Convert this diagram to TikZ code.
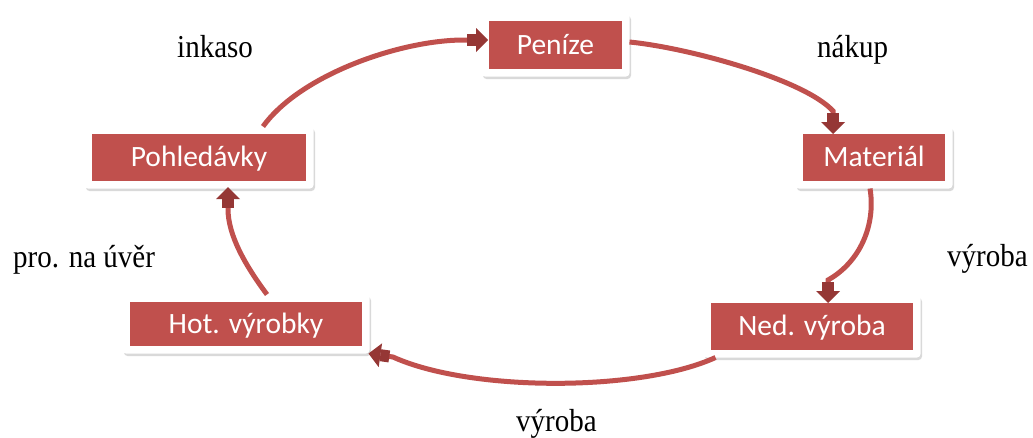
\documentclass[tikz,border=0pt]{standalone}
\usepackage{fontspec}
\setmainfont{Liberation Serif}
\newfontfamily\boxfont{Carlito}
\usetikzlibrary{arrows.meta,fit,backgrounds,shadows}
\definecolor{boxred}{HTML}{C0504D}
\definecolor{arrowred}{HTML}{953735}
\tikzset{
  rednode/.style={fill=boxred, text=white, inner sep=0pt, outer sep=0pt,
    text height=18pt, text depth=0pt,
    font=\boxfont\fontsize{29.5}{30}\selectfont},
  whitebox/.style={fill=white, inner sep=7.5pt, outer sep=0pt, rounded corners=3.5pt,
    drop shadow={opacity=0.3, shadow xshift=1.5pt, shadow yshift=-2.5pt}},
  flow/.style={draw=boxred, line width=5pt,
    -{Rectangle[length=9pt,width=12pt,sep=0pt,line width=0pt,color=arrowred]Triangle[length=12pt,width=24pt,sep=0pt,line width=0pt,color=arrowred]}},
  lbl/.style={anchor=base west, inner sep=0pt, font=\fontsize{29}{30}\selectfont}
}
\newcommand{\tall}[1]{\scalebox{1}[1.1]{#1}}
\begin{document}
\begin{tikzpicture}[x=1pt,y=-1pt]
\useasboundingbox (0,0) rectangle (1033,437);
% boxes
\node[rednode, minimum width=133pt, minimum height=48pt] (pen)  at (555.5,45)   {Peníze};
\node[rednode, minimum width=142pt, minimum height=47pt] (mat)  at (874,157.5)  {Materiál};
\node[rednode, minimum width=214pt, minimum height=47pt] (pohl) at (199,157.5)  {Pohledávky};
\node[rednode, minimum width=232pt, minimum height=44pt] (hot)  at (246,324)    {Hot. výrobky};
\node[rednode, minimum width=202pt, minimum height=47pt] (ned)  at (812,326.5)  {Ned. výroba};
\begin{scope}[on background layer]
  \node[whitebox, fit=(pen)]  (penw)  {};
  \node[whitebox, fit=(mat)]  (matw)  {};
  \node[whitebox, fit=(pohl)] (pohlw) {};
  \node[whitebox, fit=(hot)]  (hotw)  {};
  \node[whitebox, fit=(ned)]  (nedw)  {};
\end{scope}
% connectors
\draw[flow] ([xshift=64pt]pohlw.north) .. controls (300,75) and (400,40) .. (464,40) -- ([xshift=-1pt,yshift=5pt]pen.west);
\draw[flow] ([yshift=3pt]penw.east) .. controls (690,48) and (805,80) .. (833,111) -- ([xshift=-41pt]mat.north);
\draw[flow] ([xshift=-4pt]matw.south) .. controls (876,225) and (860,262) .. (828,280) -- ([xshift=16pt]ned.north);
\draw[flow] ([xshift=12pt]nedw.south west) .. controls (640,392) and (470,392) .. (393,357) -- ([xshift=-1pt]hotw.south east);
\draw[flow] ([xshift=21pt]hotw.north) .. controls (245,265) and (228,235) .. (228,209) -- ([xshift=29pt,yshift=-6pt]pohl.south);
% labels
\node[lbl] (l1) at (177,57)  {\tall{inkaso}};
\node[lbl] (l2) at (817,57)  {\tall{nákup}};
\node[lbl] (l3) at (947,266) {\tall{výroba}};
\node[lbl] (l4) at (13,267)  {\tall{pro. na úvěr}};
\node[lbl] (l5) at (516,431) {\tall{výroba}};
\end{tikzpicture}
\end{document}
